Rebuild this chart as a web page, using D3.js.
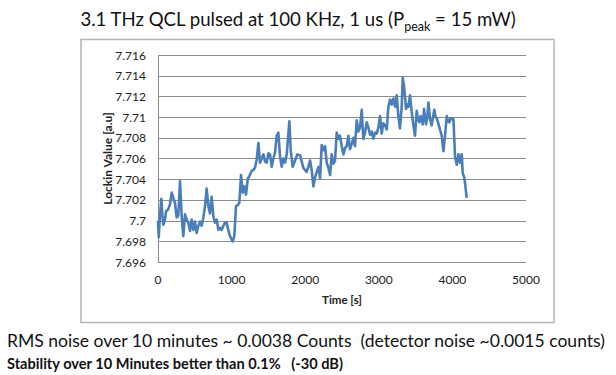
<!DOCTYPE html>
<html>
<head>
<meta charset="utf-8">
<title>QCL stability</title>
<style>
  body { margin: 0; background: #fff; }
  svg { display: block; font-family: Lato, "Open Sans", sans-serif; }
  text { white-space: pre; }
</style>
</head>
<body>
<svg width="616" height="375"></svg>
<script src="https://d3js.org/d3.v7.min.js"></script>
<script>
// time in seconds, lockin value in a.u.
const times = [0, 10, 25, 45, 60, 72, 95, 110, 140, 163, 186, 208, 231, 254, 276, 299, 322, 344, 367, 390,
  412, 435, 457, 480, 503, 525, 548, 571, 593, 616, 639, 661, 684, 706, 729, 752, 774, 797, 820, 842,
  865, 888, 910, 933, 955, 978, 1015, 1037, 1060, 1083, 1105, 1128, 1151, 1173, 1196, 1219, 1241, 1273, 1296, 1318,
  1341, 1364, 1386, 1409, 1432, 1455, 1477, 1500, 1522, 1545, 1568, 1590, 1613, 1635, 1658, 1681, 1704, 1726, 1749, 1785,
  1803, 1830, 1862, 1894, 1930, 1975, 2020, 2043, 2066, 2090, 2111, 2135, 2157, 2180, 2202, 2224, 2247, 2270, 2292, 2315,
  2338, 2360, 2383, 2405, 2428, 2450, 2473, 2496, 2519, 2541, 2564, 2587, 2609, 2632, 2655, 2677, 2700, 2722, 2745, 2768,
  2790, 2813, 2836, 2858, 2881, 2904, 2926, 2949, 2972, 2995, 3017, 3040, 3062, 3085, 3108, 3130, 3153, 3175, 3198, 3221,
  3243, 3266, 3288, 3311, 3325, 3343, 3370, 3385, 3402, 3424, 3447, 3470, 3492, 3515, 3533, 3551, 3569, 3597, 3615, 3642,
  3660, 3674, 3696, 3719, 3737, 3755, 3771, 3787, 3805, 3823, 3855, 3878, 3900, 3923, 3941, 3959, 3975, 3991, 4014, 4036,
  4059, 4082, 4104, 4127, 4140, 4160, 4172, 4194];

const values = [7.7000, 7.6984, 7.7003, 7.7021, 7.7005, 7.6996, 7.7001, 7.7009, 7.7011, 7.7016, 7.7027, 7.7022, 7.7017, 7.7003, 7.7005, 7.7038, 7.7004, 7.6985, 7.7006, 7.7001,
  7.6998, 7.6990, 7.7001, 7.6991, 7.6999, 7.6988, 7.6995, 7.6999, 7.6995, 7.7003, 7.7014, 7.7031, 7.7014, 7.7007, 7.7023, 7.7004, 7.6998, 7.7001, 7.6991, 7.6993,
  7.6991, 7.6995, 7.6998, 7.6998, 7.6991, 7.6985, 7.6980, 7.6985, 7.7014, 7.7015, 7.7017, 7.7044, 7.7027, 7.7033, 7.7025, 7.7040, 7.7043, 7.7048, 7.7049, 7.7051,
  7.7059, 7.7075, 7.7056, 7.7060, 7.7064, 7.7057, 7.7056, 7.7065, 7.7064, 7.7052, 7.7060, 7.7066, 7.7082, 7.7085, 7.7062, 7.7052, 7.7060, 7.7056, 7.7064, 7.7096,
  7.7068, 7.7052, 7.7058, 7.7064, 7.7063, 7.7051, 7.7047, 7.7052, 7.7058, 7.7048, 7.7033, 7.7042, 7.7047, 7.7052, 7.7041, 7.7073, 7.7068, 7.7072, 7.7056, 7.7051,
  7.7044, 7.7064, 7.7055, 7.7058, 7.7085, 7.7079, 7.7082, 7.7072, 7.7064, 7.7070, 7.7072, 7.7082, 7.7069, 7.7074, 7.7080, 7.7072, 7.7097, 7.7086, 7.7090, 7.7107,
  7.7079, 7.7085, 7.7095, 7.7090, 7.7083, 7.7086, 7.7079, 7.7085, 7.7084, 7.7090, 7.7101, 7.7084, 7.7094, 7.7092, 7.7088, 7.7110, 7.7117, 7.7112, 7.7118, 7.7110,
  7.7121, 7.7101, 7.7089, 7.7110, 7.7138, 7.7130, 7.7108, 7.7112, 7.7110, 7.7121, 7.7105, 7.7092, 7.7082, 7.7106, 7.7098, 7.7095, 7.7101, 7.7093, 7.7108, 7.7093,
  7.7100, 7.7114, 7.7098, 7.7092, 7.7100, 7.7107, 7.7100, 7.7099, 7.7095, 7.7090, 7.7082, 7.7067, 7.7082, 7.7101, 7.7096, 7.7095, 7.7099, 7.7098, 7.7098, 7.7062,
  7.7054, 7.7064, 7.7056, 7.7064, 7.7046, 7.7042, 7.7036, 7.7022];

const xTicks = [0, 1000, 2000, 3000, 4000, 5000];
const yTicks = [7.696, 7.698, 7.7, 7.702, 7.704, 7.706, 7.708, 7.71, 7.712, 7.714, 7.716];

const titleMain = "3.1 THz QCL pulsed at 100 KHz, 1 us (P";
const titleSub = "peak";
const titleEnd = " = 15 mW)";
const xTitle = "Time [s]";
const yTitle = "Lockin Value [a.u]";
const note1 = "RMS noise over 10 minutes ~ 0.0038 Counts  (detector noise ~0.0015 counts)";
const note2 = "Stability over 10 Minutes better than 0.1%   (-30 dB)";

const svg = d3.select("svg");
const lineColor = "#4a7ebb";
const gridColor = "#8c8c8c";

const plot = { left: 158, right: 526, top: 55, bottom: 262 };

const x = d3.scaleLinear().domain([0, 5000]).range([plot.left, plot.right]);
const y = d3.scaleLinear().domain([7.696, 7.716]).range([plot.bottom, plot.top]);
const fmt = d3.format(".3~f");

// chart frame
svg.append("rect")
  .attr("x", 81).attr("y", 39.5)
  .attr("width", 473).attr("height", 283)
  .attr("fill", "#fff")
  .attr("stroke", "#b4b4b4")
  .attr("stroke-width", 1.5);

// gridlines
svg.append("g")
  .selectAll("line")
  .data(yTicks)
  .join("line")
    .attr("x1", plot.left).attr("x2", plot.right)
    .attr("y1", d => Math.round(y(d)) + 0.5)
    .attr("y2", d => Math.round(y(d)) + 0.5)
    .attr("stroke", gridColor)
    .attr("stroke-width", 1);

// y axis line
svg.append("line")
  .attr("x1", plot.left + 0.5).attr("x2", plot.left + 0.5)
  .attr("y1", plot.top).attr("y2", plot.bottom)
  .attr("stroke", gridColor);

// y tick labels
svg.append("g")
  .attr("font-size", 12)
  .attr("fill", "#222")
  .attr("text-anchor", "end")
  .selectAll("text")
  .data(yTicks)
  .join("text")
    .attr("x", 146)
    .attr("y", d => y(d) + 4.5)
    .text(d => fmt(d));

// x tick labels
svg.append("g")
  .attr("font-size", 12)
  .attr("fill", "#222")
  .attr("text-anchor", "middle")
  .selectAll("text")
  .data(xTicks)
  .join("text")
    .attr("x", d => x(d))
    .attr("y", 284)
    .text(d => d);

// axis titles
svg.append("text")
  .attr("x", (plot.left + plot.right) / 2)
  .attr("y", 304)
  .attr("text-anchor", "middle")
  .attr("font-size", 11.5)
  .attr("font-weight", "bold")
  .attr("fill", "#222")
  .text(xTitle);

svg.append("text")
  .attr("transform", `translate(112,${(plot.top + plot.bottom) / 2}) rotate(-90)`)
  .attr("text-anchor", "middle")
  .attr("font-size", 12)
  .attr("font-weight", "bold")
  .attr("fill", "#222")
  .text(yTitle);

// data line
const line = d3.line()
  .x((d, i) => x(times[i]))
  .y(d => y(d));

svg.append("path")
  .datum(values)
  .attr("fill", "none")
  .attr("stroke", lineColor)
  .attr("stroke-width", 2.6)
  .attr("stroke-linejoin", "round")
  .attr("d", line);

// title
const title = svg.append("text")
  .attr("x", 298)
  .attr("y", 26)
  .attr("text-anchor", "middle")
  .attr("font-size", 18.6)
  .attr("fill", "#111");
title.append("tspan").text(titleMain);
title.append("tspan").attr("font-size", 12.5).attr("dy", 5).text(titleSub);
title.append("tspan").attr("dy", -5).text(titleEnd);

// notes below chart
svg.append("text")
  .attr("x", 7)
  .attr("y", 347)
  .attr("font-size", 17)
  .attr("fill", "#111")
  .attr("textLength", 598)
  .attr("lengthAdjust", "spacingAndGlyphs")
  .text(note1);

svg.append("text")
  .attr("x", 7)
  .attr("y", 369)
  .attr("font-size", 16)
  .attr("font-weight", "bold")
  .attr("fill", "#111")
  .attr("textLength", 336)
  .attr("lengthAdjust", "spacingAndGlyphs")
  .text(note2);
</script>
</body>
</html>
